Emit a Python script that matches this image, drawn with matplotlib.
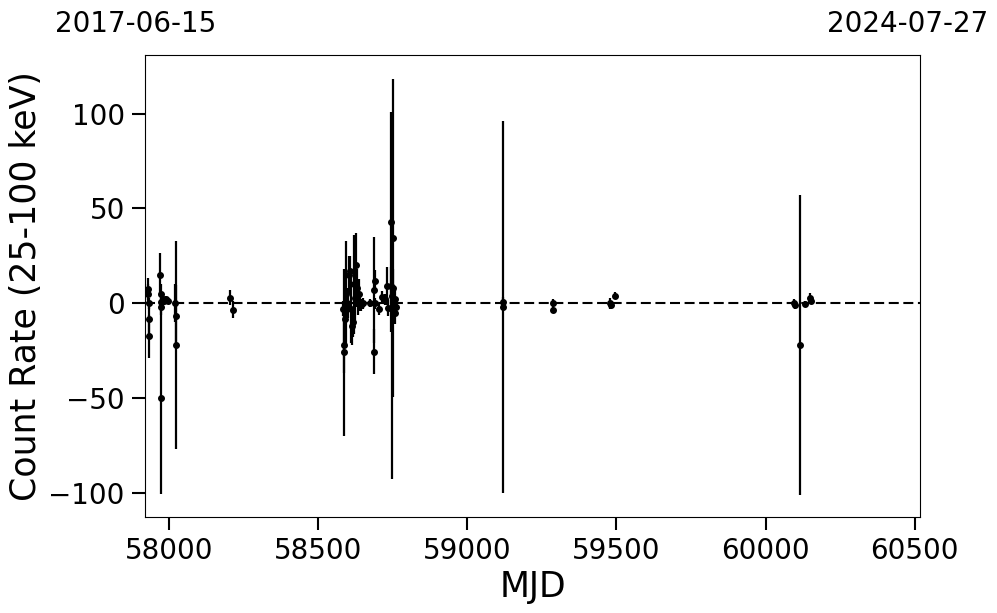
import matplotlib
matplotlib.use('Agg')
import matplotlib.pyplot as plt


# light curve points: MJD, count rate, 1-sigma error
MJD = [
    57929, 57930, 57931, 57931, 57932,
    57971, 57972, 57972, 57973, 57974,
    57978, 57984, 57990, 57995,
    58021, 58022, 58023,
    58204, 58215,
    58583, 58585, 58587, 58590, 58592, 58596, 58600, 58604, 58607, 58610,
    58614, 58617, 58620, 58623, 58627, 58630, 58633, 58636, 58640, 58645,
    58650,
    58673, 58686, 58688, 58689, 58691, 58704, 58713, 58724, 58730, 58735,
    58743, 58745, 58747, 58748, 58750, 58752, 58754, 58756, 58758, 58760,
    59118, 59120,
    59286, 59288,
    59478, 59481, 59496,
    60095, 60099, 60116, 60133, 60150, 60153,
]
RATE = [
    7.5, 5.0, 0.0, -8.5, -17.5,
    15.0, 5.0, 0.5, -2.0, -50.0,
    2.0, 1.0, 2.0, 1.0,
    0.0, -6.5, -22.0,
    3.0, -3.5,
    -3.0, -22.0, -26.0, -8.5, 5.0, 0.0, -2.0, 15.0, 17.0, -3.0,
    -12.0, -10.0, 10.0, 3.0, 20.0, 8.0, 0.0, 5.0, 0.0, -1.0,
    0.0,
    0.0, -25.5, 7.0, 11.5, 0.0, -3.0, 3.5, 2.0, 9.0, -2.5,
    9.0, 43.0, 4.0, -3.0, 34.5, 8.0, 0.0, -5.0, 2.0, -2.0,
    0.5, -2.0,
    0.0, -3.5,
    0.0, -1.0, 4.0,
    0.0, -1.0, -22.0, -0.5, 3.0, 1.0,
]
RATE_ERR = [
    6.0, 5.0, 3.0, 8.0, 11.5,
    11.5, 5.0, 3.0, 4.0, 50.5,
    3.0, 2.0, 2.0, 1.5,
    10.0, 16.0, 55.0,
    4.0, 4.5,
    4.0, 15.0, 44.0, 10.0, 28.0, 8.0, 6.0, 10.0, 8.0, 18.0,
    10.0, 8.0, 26.0, 12.0, 17.0, 10.0, 6.0, 8.0, 4.0, 3.0,
    3.0,
    2.0, 12.0, 28.0, 6.0, 3.0, 3.0, 3.0, 3.0, 10.0, 4.0,
    10.0, 58.0, 97.0, 6.0, 84.0, 10.0, 8.0, 6.0, 5.0, 4.0,
    3.0, 98.0,
    2.0, 1.5,
    3.0, 2.0, 2.0,
    2.0, 2.0, 79.0, 1.5, 2.5, 1.5,
]

MJD_START = 57919  # 2017-06-15
MJD_END = 60518    # 2024-07-27
START_LABEL = '2017-06-15'
END_LABEL = '2024-07-27'

fig = plt.figure(figsize=(9.97, 6.13), dpi=100)
ax = fig.add_axes([0.1454, 0.1561, 0.7774, 0.7542])

ax.errorbar(MJD, RATE, yerr=RATE_ERR, fmt='o', color='k', ms=4,
            elinewidth=1.6, capsize=0, zorder=3)
ax.axhline(0, color='k', ls='--', lw=1.5, dashes=(4.8, 2.2), zorder=2)

ax.set_xlim(MJD_START, MJD_END)
ax.set_ylim(-113, 131)
ax.set_xticks([58000, 58500, 59000, 59500, 60000, 60500])
ax.set_yticks([-100, -50, 0, 50, 100])
ax.tick_params(labelsize=20, length=9.5, width=1.5, pad=5)

ax.set_xlabel('MJD', fontsize=25, labelpad=3)
ax.set_ylabel('Count Rate (25-100 keV)', fontsize=25, labelpad=4)

fig.text(0.1364, 0.948, START_LABEL, fontsize=20, ha='center',
         va='baseline')
fig.text(0.910, 0.948, END_LABEL, fontsize=20, ha='center', va='baseline')

fig.savefig('out.png', dpi=100)
